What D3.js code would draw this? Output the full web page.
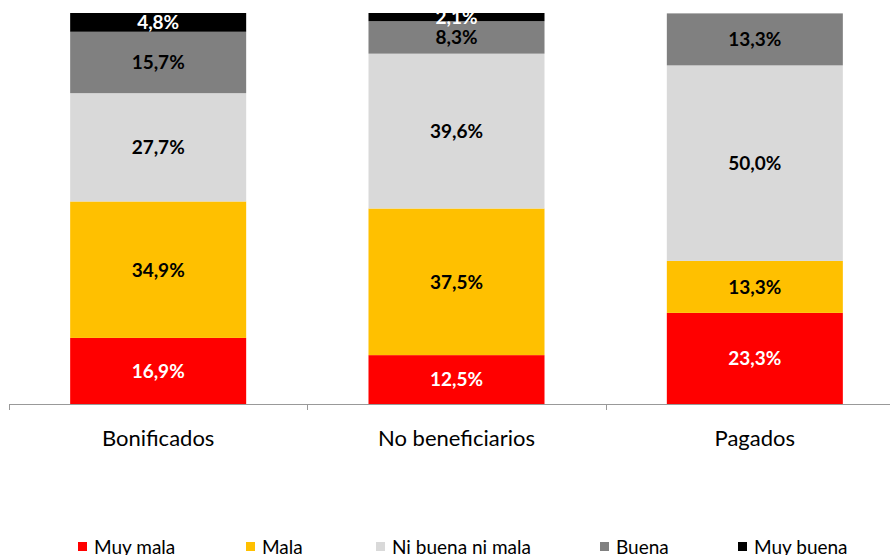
<!DOCTYPE html>
<html>
<head>
<meta charset="utf-8">
<script src="https://cdn.jsdelivr.net/npm/d3@7"></script>
<style>
  body { margin: 0; background: #fff; }
  svg { display: block; font-family: Lato, "Open Sans", sans-serif; }
</style>
</head>
<body>
<div id="chart"></div>
<script>
const categories = ["Bonificados", "No beneficiarios", "Pagados"];
const seriesNames = ["Muy mala", "Mala", "Ni buena ni mala", "Buena", "Muy buena"];
const colors = ["#FF0000", "#FFC000", "#D9D9D9", "#808080", "#000000"];
const labelColors = ["#fff", "#000", "#000", "#000", "#fff"];
const muyMala = [16.9, 12.5, 23.3];
const mala = [34.9, 37.5, 13.3];
const niBuenaNiMala = [27.7, 39.6, 50.0];
const buena = [15.7, 8.3, 13.3];
const muyBuena = [4.8, 2.1, 0];

const series = [muyMala, mala, niBuenaNiMala, buena, muyBuena];

const width = 890, height = 555;
const plot = { left: 9, right: 904, top: 13, bottom: 404 };

const svg = d3.select("#chart").append("svg")
    .attr("width", width)
    .attr("height", height);

const x = d3.scaleBand()
    .domain(categories)
    .range([plot.left, plot.right])
    .paddingInner(0.41)
    .paddingOuter(0.205);

const y = d3.scaleLinear()
    .domain([0, 100])
    .range([plot.bottom, plot.top]);

const rows = categories.map((c, i) => {
    const r = { cat: c };
    seriesNames.forEach((s, j) => r[s] = series[j][i]);
    return r;
});

const stacked = d3.stack().keys(seriesNames)(rows);

const layer = svg.selectAll(".layer")
    .data(stacked)
    .enter().append("g")
    .attr("class", "layer")
    .attr("fill", (d, i) => colors[i]);

layer.selectAll("rect")
    .data(d => d)
    .enter().append("rect")
    .attr("x", d => x(d.data.cat))
    .attr("width", x.bandwidth())
    .attr("y", d => y(d[1]))
    .attr("height", d => y(d[0]) - y(d[1]));

// labels
stacked.forEach((s, i) => {
    svg.append("g").selectAll("text")
        .data(s.filter(d => d[1] - d[0] > 0))
        .enter().append("text")
        .attr("x", d => x(d.data.cat) + x.bandwidth() / 2)
        .attr("y", d => (y(d[0]) + y(d[1])) / 2)
        .attr("dy", "0.36em")
        .attr("text-anchor", "middle")
        .attr("font-size", 19)
        .attr("font-weight", "bold")
        .attr("fill", labelColors[i])
        .text(d => (d[1] - d[0]).toFixed(1).replace(".", ",") + "%");
});

// axis
const axis = svg.append("g");
axis.append("line")
    .attr("x1", plot.left).attr("x2", width)
    .attr("y1", plot.bottom + 0.5).attr("y2", plot.bottom + 0.5)
    .attr("stroke", "#999");
d3.range(categories.length + 1).forEach(i => {
    const tx = Math.round(plot.left + i * (plot.right - plot.left) / categories.length) + 0.5;
    axis.append("line")
        .attr("x1", tx).attr("x2", tx)
        .attr("y1", plot.bottom).attr("y2", plot.bottom + 6)
        .attr("stroke", "#999");
});
axis.selectAll(".cat")
    .data(categories)
    .enter().append("text")
    .attr("class", "cat")
    .attr("x", d => x(d) + x.bandwidth() / 2)
    .attr("y", 446)
    .attr("text-anchor", "middle")
    .attr("font-size", 22)
    .attr("fill", "#000")
    .text(d => d);

// legend
const legendX = [78, 246, 376, 600, 738];
const legend = svg.append("g");
seriesNames.forEach((s, i) => {
    legend.append("rect")
        .attr("x", legendX[i]).attr("y", 542)
        .attr("width", 9).attr("height", 9)
        .attr("fill", colors[i]);
    legend.append("text")
        .attr("x", legendX[i] + 16).attr("y", 554)
        .attr("font-size", 19)
        .attr("fill", "#000")
        .text(s);
});
</script>
</body>
</html>
